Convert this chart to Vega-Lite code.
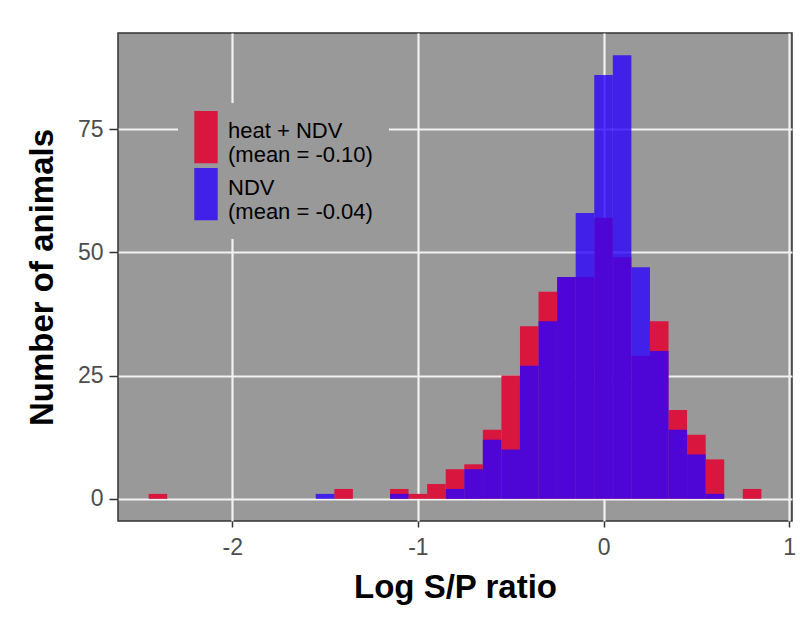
{
  "$schema": "https://vega.github.io/schema/vega-lite/v6.json",
  "width": 674,
  "height": 488,
  "autosize": {"type": "none"},
  "padding": {"left": 118, "top": 33, "right": 8, "bottom": 100},
  "background": "#ffffff",
  "config": {
    "font": "Liberation Sans",
    "view": {"fill": "#999999", "stroke": "#333333", "strokeWidth": 1.5},
    "axis": {
      "domain": false,
      "grid": true,
      "gridColor": "#f2f2f2",
      "gridWidth": 2.2,
      "tickColor": "#333333",
      "tickWidth": 1.5,
      "labelColor": "#4d4d4d",
      "labelFont": "Liberation Sans",
      "labelFontSize": 23,
      "titleFont": "Liberation Sans",
      "titleFontSize": 33,
      "titleFontWeight": "bold",
      "titleColor": "#000000"
    }
  },
  "datasets": {
    "heat": [
      {"group": "heat + NDV|(mean = -0.10)", "bin_start": -2.45, "bin_end": -2.35, "count": 1},
      {"group": "heat + NDV|(mean = -0.10)", "bin_start": -1.45, "bin_end": -1.35, "count": 2},
      {"group": "heat + NDV|(mean = -0.10)", "bin_start": -1.15, "bin_end": -1.05, "count": 2},
      {"group": "heat + NDV|(mean = -0.10)", "bin_start": -1.05, "bin_end": -0.95, "count": 1},
      {"group": "heat + NDV|(mean = -0.10)", "bin_start": -0.95, "bin_end": -0.85, "count": 3},
      {"group": "heat + NDV|(mean = -0.10)", "bin_start": -0.85, "bin_end": -0.75, "count": 6},
      {"group": "heat + NDV|(mean = -0.10)", "bin_start": -0.75, "bin_end": -0.65, "count": 7},
      {"group": "heat + NDV|(mean = -0.10)", "bin_start": -0.65, "bin_end": -0.55, "count": 14},
      {"group": "heat + NDV|(mean = -0.10)", "bin_start": -0.55, "bin_end": -0.45, "count": 25},
      {"group": "heat + NDV|(mean = -0.10)", "bin_start": -0.45, "bin_end": -0.35, "count": 35},
      {"group": "heat + NDV|(mean = -0.10)", "bin_start": -0.35, "bin_end": -0.25, "count": 42},
      {"group": "heat + NDV|(mean = -0.10)", "bin_start": -0.25, "bin_end": -0.15, "count": 45},
      {"group": "heat + NDV|(mean = -0.10)", "bin_start": -0.15, "bin_end": -0.05, "count": 45},
      {"group": "heat + NDV|(mean = -0.10)", "bin_start": -0.05, "bin_end": 0.05, "count": 57},
      {"group": "heat + NDV|(mean = -0.10)", "bin_start": 0.05, "bin_end": 0.15, "count": 49},
      {"group": "heat + NDV|(mean = -0.10)", "bin_start": 0.15, "bin_end": 0.25, "count": 29},
      {"group": "heat + NDV|(mean = -0.10)", "bin_start": 0.25, "bin_end": 0.35, "count": 36},
      {"group": "heat + NDV|(mean = -0.10)", "bin_start": 0.35, "bin_end": 0.45, "count": 18},
      {"group": "heat + NDV|(mean = -0.10)", "bin_start": 0.45, "bin_end": 0.55, "count": 13},
      {"group": "heat + NDV|(mean = -0.10)", "bin_start": 0.55, "bin_end": 0.65, "count": 8},
      {"group": "heat + NDV|(mean = -0.10)", "bin_start": 0.75, "bin_end": 0.85, "count": 2}
    ],
    "ndv": [
      {"group": "NDV|(mean = -0.04)", "bin_start": -1.55, "bin_end": -1.45, "count": 1},
      {"group": "NDV|(mean = -0.04)", "bin_start": -1.15, "bin_end": -1.05, "count": 1},
      {"group": "NDV|(mean = -0.04)", "bin_start": -0.85, "bin_end": -0.75, "count": 2},
      {"group": "NDV|(mean = -0.04)", "bin_start": -0.75, "bin_end": -0.65, "count": 6},
      {"group": "NDV|(mean = -0.04)", "bin_start": -0.65, "bin_end": -0.55, "count": 12},
      {"group": "NDV|(mean = -0.04)", "bin_start": -0.55, "bin_end": -0.45, "count": 10},
      {"group": "NDV|(mean = -0.04)", "bin_start": -0.45, "bin_end": -0.35, "count": 27},
      {"group": "NDV|(mean = -0.04)", "bin_start": -0.35, "bin_end": -0.25, "count": 36},
      {"group": "NDV|(mean = -0.04)", "bin_start": -0.25, "bin_end": -0.15, "count": 45},
      {"group": "NDV|(mean = -0.04)", "bin_start": -0.15, "bin_end": -0.05, "count": 58},
      {"group": "NDV|(mean = -0.04)", "bin_start": -0.05, "bin_end": 0.05, "count": 86},
      {"group": "NDV|(mean = -0.04)", "bin_start": 0.05, "bin_end": 0.15, "count": 90},
      {"group": "NDV|(mean = -0.04)", "bin_start": 0.15, "bin_end": 0.25, "count": 47},
      {"group": "NDV|(mean = -0.04)", "bin_start": 0.25, "bin_end": 0.35, "count": 30},
      {"group": "NDV|(mean = -0.04)", "bin_start": 0.35, "bin_end": 0.45, "count": 14},
      {"group": "NDV|(mean = -0.04)", "bin_start": 0.45, "bin_end": 0.55, "count": 9},
      {"group": "NDV|(mean = -0.04)", "bin_start": 0.55, "bin_end": 0.65, "count": 1}
    ]
  },
  "encoding": {
    "x": {
      "field": "bin_start",
      "type": "quantitative",
      "scale": {"domain": [-2.615, 1.015], "nice": false, "zero": false},
      "axis": {
        "title": "Log S/P ratio",
        "values": [-2, -1, 0, 1],
        "labelExpr": "toString(datum.value)",
        "tickSize": 6,
        "labelPadding": 9,
        "titlePadding": 12
      }
    },
    "x2": {"field": "bin_end"},
    "y": {
      "field": "count",
      "type": "quantitative",
      "scale": {"domain": [-4.5, 94.5], "nice": false, "zero": false},
      "axis": {
        "title": "Number of animals",
        "values": [0, 25, 50, 75],
        "labelExpr": "toString(datum.value)",
        "tickSize": 9,
        "labelPadding": 6,
        "titlePadding": 18
      }
    },
    "y2": {"datum": 0},
    "color": {
      "field": "group",
      "type": "nominal",
      "scale": {
        "domain": ["heat + NDV|(mean = -0.10)", "NDV|(mean = -0.04)"],
        "range": ["#d8163e", "rgba(42,2,252,0.8)"]
      },
      "legend": {
        "title": null,
        "orient": "none",
        "legendX": 60,
        "legendY": 70,
        "padding": 16,
        "fillColor": "#999999",
        "strokeColor": null,
        "labelExpr": "split(datum.label, '|')",
        "labelFont": "Liberation Sans",
        "labelFontSize": 22,
        "labelColor": "#000000",
        "labelOffset": 10,
        "labelLimit": 400,
        "symbolType": "M-1,-1.7H1V2.75H-1Z",
        "symbolSize": 548,
        "symbolStrokeWidth": 0,
        "symbolOpacity": 1,
        "rowPadding": 2
      }
    }
  },
  "layer": [
    {"data": {"name": "heat"}, "mark": {"type": "rect"}},
    {"data": {"name": "ndv"}, "mark": {"type": "rect"}}
  ]
}
